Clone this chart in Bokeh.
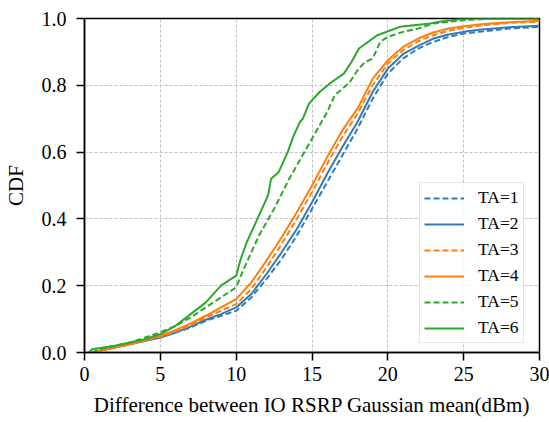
from bokeh.plotting import figure
from bokeh.models import Legend, LegendItem, Range1d, FixedTicker, CustomJSTickFormatter
from bokeh.embed import file_html
from bokeh.resources import INLINE

# ---- data ----
labels = ["TA=1", "TA=2", "TA=3", "TA=4", "TA=5", "TA=6"]

x_common = [0.8, 1, 2, 3, 4, 5, 6, 7, 8, 9, 10, 11, 12, 13, 14, 15, 16, 17, 18,
            19, 20, 21, 22, 23, 24, 25, 26, 27, 28, 30]
ta1_y = [0, 0.005, 0.015, 0.025, 0.035, 0.045, 0.06, 0.075, 0.095, 0.11, 0.125,
         0.165, 0.22, 0.28, 0.35, 0.43, 0.51, 0.59, 0.67, 0.76, 0.835, 0.88, 0.91,
         0.93, 0.945, 0.955, 0.96, 0.965, 0.97, 0.975]
ta2_y = [0, 0.005, 0.015, 0.025, 0.035, 0.045, 0.06, 0.078, 0.098, 0.115, 0.135,
         0.175, 0.235, 0.30, 0.37, 0.45, 0.535, 0.615, 0.69, 0.78, 0.85, 0.893,
         0.918, 0.94, 0.952, 0.96, 0.966, 0.97, 0.974, 0.978]
ta3_y = [0, 0.005, 0.015, 0.025, 0.035, 0.047, 0.063, 0.082, 0.105, 0.125, 0.145,
         0.19, 0.255, 0.325, 0.40, 0.48, 0.565, 0.645, 0.715, 0.80, 0.865, 0.905,
         0.932, 0.95, 0.963, 0.972, 0.978, 0.983, 0.987, 0.99]
ta4_y = [0, 0.005, 0.015, 0.025, 0.037, 0.05, 0.067, 0.087, 0.11, 0.135, 0.16,
         0.21, 0.275, 0.345, 0.42, 0.5, 0.585, 0.665, 0.73, 0.82, 0.875, 0.915,
         0.94, 0.958, 0.97, 0.977, 0.982, 0.986, 0.989, 0.993]

ta5_x = [0.5, 1, 2, 3, 4, 5, 6, 7, 8, 9, 10, 10.5, 11, 11.5, 12, 12.5, 13, 13.5,
         14, 14.5, 15, 15.5, 16, 16.5, 17, 17.5, 18, 18.5, 19, 19.5, 20, 21, 22,
         23, 24, 25, 27, 30]
ta5_y = [0, 0.01, 0.02, 0.03, 0.045, 0.06, 0.08, 0.105, 0.135, 0.165, 0.195, 0.25,
         0.3, 0.35, 0.39, 0.43, 0.475, 0.52, 0.56, 0.6, 0.64, 0.68, 0.72, 0.77,
         0.79, 0.81, 0.845, 0.87, 0.88, 0.93, 0.945, 0.96, 0.97, 0.985, 0.99,
         0.995, 1.0, 1.0]

ta6_x = [0.3, 0.5, 2, 3, 4, 5, 6, 7, 8, 9, 9.5, 10, 10.3, 10.7, 11.2, 11.7, 12.1,
         12.3, 12.8, 13.4, 13.8, 14.2, 14.4, 14.8, 15.5, 16.3, 17.1, 17.6, 18.1,
         19.3, 20.8, 22.8, 23.4, 25, 30]
ta6_y = [0, 0.01, 0.02, 0.03, 0.04, 0.055, 0.08, 0.115, 0.15, 0.2, 0.215, 0.23,
         0.28, 0.33, 0.38, 0.43, 0.47, 0.52, 0.54, 0.6, 0.65, 0.69, 0.70, 0.745,
         0.78, 0.81, 0.835, 0.87, 0.91, 0.95, 0.975, 0.985, 0.99, 1.0, 1.0]

x_ticks = [0, 5, 10, 15, 20, 25, 30]
y_ticks = [0.0, 0.2, 0.4, 0.6, 0.8, 1.0]

BLUE, ORANGE, GREEN = "#2f7bc0", "#ff7f0e", "#2ca82c"
series = [
    (x_common, ta1_y, BLUE, "dashed"),
    (x_common, ta2_y, BLUE, "solid"),
    (x_common, ta3_y, ORANGE, "dashed"),
    (x_common, ta4_y, ORANGE, "solid"),
    (ta5_x, ta5_y, GREEN, "dashed"),
    (ta6_x, ta6_y, GREEN, "solid"),
]

FONT = "Liberation Serif"

p = figure(width=549, height=422, output_backend="svg", toolbar_location=None,
           x_range=Range1d(0, 30), y_range=Range1d(0, 1),
           min_border_left=83, min_border_right=10, min_border_top=18,
           min_border_bottom=70)

items = []
for (xs, ys, color, style), lab in zip(series, labels):
    dash = "6 3" if style == "dashed" else "solid"
    r = p.line(xs, ys, line_color=color, line_width=2, line_dash=dash)
    items.append(LegendItem(label=lab, renderers=[r]))

legend = Legend(items=items, location=(335, 9), margin=0, padding=4,
                glyph_width=40, glyph_height=20, label_height=20,
                label_standoff=14, spacing=5,
                label_text_font=FONT, label_text_font_size="17.5px",
                label_text_color="black",
                border_line_color="#cccccc", border_line_width=1.5,
                background_fill_color="white", background_fill_alpha=0.85)
p.add_layout(legend, "center")

p.outline_line_color = "black"
p.outline_line_width = 1.5
p.outline_line_alpha = 1

for ax in (p.xaxis[0], p.yaxis[0]):
    ax.axis_line_color = "black"
    ax.axis_line_width = 1.5
    ax.major_tick_line_color = "black"
    ax.major_tick_line_width = 1.5
    ax.major_tick_in = 0
    ax.major_tick_out = 8
    ax.minor_tick_line_color = None
    ax.major_label_text_font = FONT
    ax.major_label_text_font_size = "20px"
    ax.major_label_text_color = "black"
    ax.axis_label_text_font = FONT
    ax.axis_label_text_font_size = "21px"
    ax.axis_label_text_font_style = "normal"
    ax.axis_label_text_color = "black"

p.xaxis.ticker = FixedTicker(ticks=x_ticks)
p.yaxis.ticker = FixedTicker(ticks=y_ticks)
p.yaxis.formatter = CustomJSTickFormatter(code="return tick.toFixed(1);")
p.xaxis.axis_label = "Difference between IO RSRP Gaussian mean(dBm)"
p.yaxis.axis_label = "CDF"
p.xaxis.major_label_standoff = 6
p.yaxis.major_label_standoff = 10
p.xaxis.axis_label_standoff = 9
p.yaxis.axis_label_standoff = 11

for g in (p.xgrid[0], p.ygrid[0]):
    g.grid_line_color = "#c0c0c0"
    g.grid_line_dash = "3 2"
    g.grid_line_width = 1

open("out.html", "w").write(file_html(p, INLINE))
